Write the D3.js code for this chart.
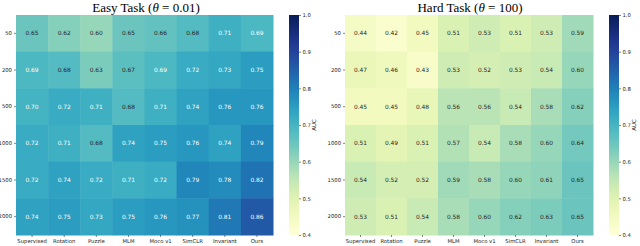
<!DOCTYPE html>
<html>
<head>
<meta charset="utf-8">
<script src="https://cdn.jsdelivr.net/npm/d3@7"></script>
<style>
  body { margin: 0; background: #fff; }
  svg { display: block; }
</style>
</head>
<body>
<div id="chart-area"></div>
<script>
const methods = ["Supervised", "Rotation", "Puzzle", "MLM", "Moco v1", "SimCLR", "Invariant", "Ours"];
const sizes = ["50", "200", "500", "1000", "1500", "2000"];
const cbTicks = [0.4, 0.5, 0.6, 0.7, 0.8, 0.9, 1.0];

const easyValues = [
  [0.65, 0.62, 0.60, 0.65, 0.66, 0.68, 0.71, 0.69],
  [0.69, 0.68, 0.63, 0.67, 0.69, 0.72, 0.73, 0.75],
  [0.70, 0.72, 0.71, 0.68, 0.71, 0.74, 0.76, 0.76],
  [0.72, 0.71, 0.68, 0.74, 0.75, 0.76, 0.74, 0.79],
  [0.72, 0.74, 0.72, 0.71, 0.72, 0.79, 0.78, 0.82],
  [0.74, 0.75, 0.73, 0.75, 0.76, 0.77, 0.81, 0.86]
];
const hardValues = [
  [0.44, 0.42, 0.45, 0.51, 0.53, 0.51, 0.53, 0.59],
  [0.47, 0.46, 0.43, 0.53, 0.52, 0.53, 0.54, 0.60],
  [0.45, 0.45, 0.48, 0.56, 0.56, 0.54, 0.58, 0.62],
  [0.51, 0.49, 0.51, 0.57, 0.54, 0.58, 0.60, 0.64],
  [0.54, 0.52, 0.52, 0.59, 0.58, 0.60, 0.61, 0.65],
  [0.53, 0.51, 0.54, 0.58, 0.60, 0.62, 0.63, 0.65]
];

const W = 640, H = 246;
const svg = d3.select('#chart-area').append('svg')
  .attr('width', W).attr('height', H);

const color = d3.scaleSequential(d3.interpolateYlGnBu).domain([0.4, 1.0]);

// seaborn-like text colour choice from luminance
function lum(c) {
  const rgb = d3.rgb(c);
  const f = v => { v /= 255; return v <= 0.03928 ? v / 12.92 : Math.pow((v + 0.055) / 1.055, 2.4); };
  return 0.2126 * f(rgb.r) + 0.7152 * f(rgb.g) + 0.0722 * f(rgb.b);
}

const defs = svg.append('defs');
const grad = defs.append('linearGradient').attr('id', 'cbgrad')
  .attr('x1', 0).attr('y1', 1).attr('x2', 0).attr('y2', 0);
d3.range(0, 1.0001, 0.05).forEach(t => {
  grad.append('stop').attr('offset', t).attr('stop-color', d3.interpolateYlGnBu(t));
});

const panels = [
  { title: "Easy Task (", theta: "0.01)", values: easyValues, x0: 16, x1: 273, cbx: 289, tcx: 146 },
  { title: "Hard Task (", theta: "100)", values: hardValues, x0: 345, x1: 593, cbx: 609, tcx: 470 }
];
const plotTop = 15, plotBottom = 235;

panels.forEach(p => {
  const g = svg.append('g');
  const x = d3.scaleBand().domain(methods).range([p.x0, p.x1]);
  const y = d3.scaleBand().domain(sizes).range([plotTop, plotBottom]);

  const cells = [];
  p.values.forEach((row, i) => row.forEach((v, j) => cells.push({ r: sizes[i], c: methods[j], v })));

  g.selectAll('rect.cell').data(cells).enter().append('rect')
    .attr('class', 'cell')
    .attr('x', d => x(d.c)).attr('y', d => y(d.r))
    .attr('width', x.bandwidth() + 0.5).attr('height', y.bandwidth() + 0.5)
    .attr('fill', d => color(d.v));

  g.selectAll('text.ann').data(cells).enter().append('text')
    .attr('class', 'ann')
    .attr('x', d => x(d.c) + x.bandwidth() / 2)
    .attr('y', d => y(d.r) + y.bandwidth() / 2)
    .attr('dy', '0.35em')
    .attr('text-anchor', 'middle')
    .attr('font-family', 'DejaVu Sans')
    .attr('font-size', 5.9)
    .attr('fill', d => lum(color(d.v)) > 0.408 ? '#262626' : '#ffffff')
    .text(d => d3.format('.2f')(d.v));

  const yAxis = g.append('g').attr('transform', `translate(${p.x0},0)`)
    .call(d3.axisLeft(y).tickSize(2).tickPadding(2));
  const xAxis = g.append('g').attr('transform', `translate(0,${plotBottom})`)
    .call(d3.axisBottom(x).tickSize(2).tickPadding(2));
  [yAxis, xAxis].forEach(a => {
    a.select('.domain').remove();
    a.selectAll('line').attr('stroke', '#333').attr('stroke-width', 0.6);
    a.selectAll('text').attr('font-family', 'DejaVu Sans').attr('font-size', 5.3).attr('fill', '#222');
  });

  // title
  const t = g.append('text')
    .attr('x', p.tcx).attr('y', 11.5)
    .attr('text-anchor', 'middle')
    .attr('font-family', 'Liberation Serif')
    .attr('font-size', 13)
    .attr('fill', '#000');
  t.append('tspan').text(p.title);
  t.append('tspan').attr('font-style', 'italic').text('θ');
  t.append('tspan').text(' = ' + p.theta);

  // colorbar
  const cb = d3.scaleLinear().domain([0.4, 1.0]).range([plotBottom, plotTop]);
  g.append('rect')
    .attr('x', p.cbx).attr('y', plotTop)
    .attr('width', 10).attr('height', plotBottom - plotTop)
    .attr('fill', 'url(#cbgrad)');
  const cbAxis = g.append('g').attr('transform', `translate(${p.cbx + 10},0)`)
    .call(d3.axisRight(cb).tickValues(cbTicks).tickSize(2).tickPadding(1.5).tickFormat(d3.format('.1f')));
  cbAxis.select('.domain').remove();
  cbAxis.selectAll('line').attr('stroke', '#333').attr('stroke-width', 0.6);
  cbAxis.selectAll('text').attr('font-family', 'DejaVu Sans').attr('font-size', 5.3).attr('fill', '#222');

  g.append('text')
    .attr('transform', `translate(${p.cbx + 27},${(plotTop + plotBottom) / 2}) rotate(-90)`)
    .attr('text-anchor', 'middle')
    .attr('font-family', 'DejaVu Sans')
    .attr('font-size', 5.5)
    .attr('fill', '#222')
    .text('AUC');
});
</script>
</body>
</html>
